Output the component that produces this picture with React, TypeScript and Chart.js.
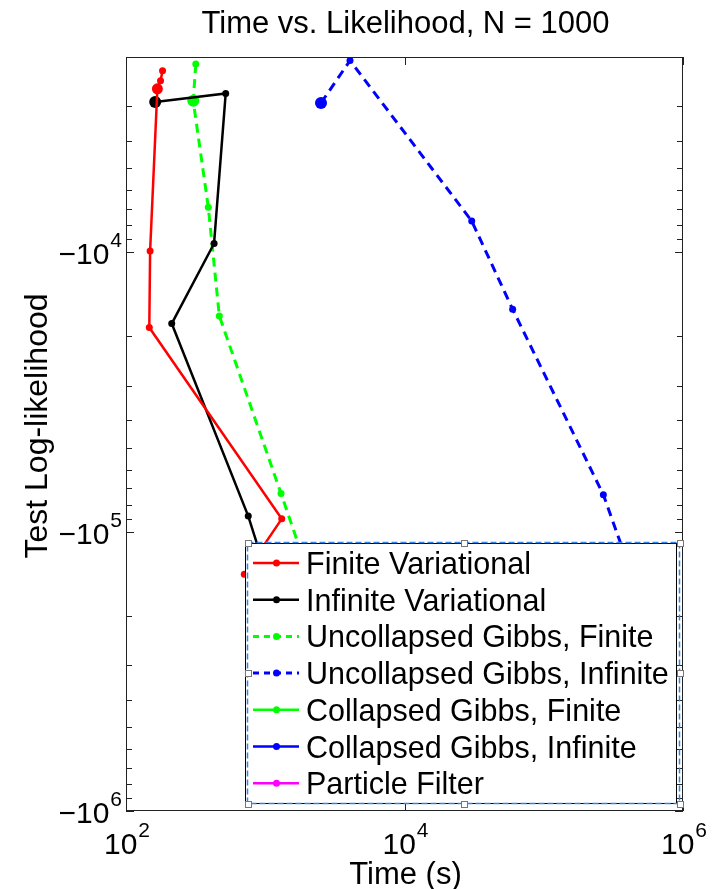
import React, { useEffect, useRef } from "react";
import { Chart, registerables } from "chart.js";

Chart.register(...registerables);

// ---------- text ----------
const TITLE = "Time vs. Likelihood, N = 1000";
const X_LABEL = "Time (s)";
const Y_LABEL = "Test Log-likelihood";
const X_TICK_EXPONENTS = [2, 4, 6];
const Y_TICK_EXPONENTS = [4, 5, 6];

// ---------- data (time in s, test log-likelihood) ----------
const finiteVarTime = [183, 177, 168, 149, 147, 1313, 707];
const finiteVarLL = [-2240, -2430, -2600, -9900, -18600, -90000, -142000];
const finiteVarSize = [3.5, 3.5, 5.5, 3.5, 3.5, 3.5, 3.5];

const infiniteVarTime = [162, 520, 429, 213, 755, 948];
const infiniteVarLL = [-2900, -2700, -9300, -18000, -88000, -126000];
const infiniteVarSize = [6, 3.5, 3.5, 3.5, 3.5, 3.5];

const uncollFiniteTime = [317, 304, 390, 468, 1298, 1836];
const uncollFiniteLL = [-2120, -2870, -6900, -16900, -73000, -121000];

const uncollInfiniteTime = [2514, 4061, 30400, 59800, 268000, 416000];
const uncollInfiniteLL = [-2920, -2060, -7730, -16000, -73800, -136700];

const collFiniteTime = [304];
const collFiniteLL = [-2870];

const collInfiniteTime = [2514];
const collInfiniteLL = [-2920];

const particleTime: number[] = [];
const particleLL: number[] = [];

const SERIES_NAMES = [
  "Finite Variational",
  "Infinite Variational",
  "Uncollapsed Gibbs, Finite",
  "Uncollapsed Gibbs, Infinite",
  "Collapsed Gibbs, Finite",
  "Collapsed Gibbs, Infinite",
  "Particle Filter",
];
const SERIES_COLORS = ["#ff0000", "#000000", "#00ff00", "#0000ff", "#00ff00", "#0000ff", "#ff00ff"];
const SERIES_DASHED = [false, false, true, true, false, false, false];

const FONT = "'Liberation Sans', Arial, Helvetica, sans-serif";
const DASH = [9, 6];

function pts(xs: number[], ys: number[]) {
  // y axis shows negative log-likelihood on a reversed log scale of its magnitude
  return xs.map((x, i) => ({ x, y: -ys[i] }));
}

function drawPow(ctx: CanvasRenderingContext2D, base: string, exp: string, x: number, baseline: number, align: "right" | "center") {
  ctx.font = `30px ${FONT}`;
  const wb = ctx.measureText(base).width;
  ctx.font = `21px ${FONT}`;
  const we = ctx.measureText(exp).width;
  const total = wb + 1 + we;
  const start = align === "right" ? x - total : x - total / 2;
  ctx.textAlign = "left";
  ctx.textBaseline = "alphabetic";
  ctx.font = `30px ${FONT}`;
  ctx.fillText(base, start, baseline);
  ctx.font = `21px ${FONT}`;
  ctx.fillText(exp, start + wb + 1, baseline - 17);
}

const decor = {
  id: "decor",
  beforeDatasetsDraw(chart: any) {
    const { ctx, chartArea: a, scales } = chart;
    const xs = scales.x;
    const ys = scales.y;
    ctx.save();
    ctx.strokeStyle = "#222";
    ctx.lineWidth = 1;
    ctx.strokeRect(a.left + 0.5, a.top + 0.5, a.right - a.left - 1, a.bottom - a.top - 1);
    ctx.beginPath();
    X_TICK_EXPONENTS.forEach((e) => {
      const px = Math.round(xs.getPixelForValue(Math.pow(10, e))) + 0.5;
      ctx.moveTo(px, a.bottom);
      ctx.lineTo(px, a.bottom - 8);
      ctx.moveTo(px, a.top);
      ctx.lineTo(px, a.top + 8);
    });
    for (let e = 3; e <= 6; e++) {
      for (let m = 1; m <= 9; m++) {
        const v = m * Math.pow(10, e);
        if (v < ys.min || v > ys.max) continue;
        const py = Math.round(ys.getPixelForValue(v)) + 0.5;
        const len = m === 1 ? 8 : 6;
        ctx.moveTo(a.left, py);
        ctx.lineTo(a.left + len, py);
        ctx.moveTo(a.right, py);
        ctx.lineTo(a.right - len, py);
      }
    }
    ctx.stroke();
    ctx.restore();
  },
  afterDatasetsDraw(chart: any) {
    const { ctx, chartArea: a, scales } = chart;
    const xs = scales.x;
    const ys = scales.y;
    ctx.save();
    ctx.fillStyle = "#000";

    X_TICK_EXPONENTS.forEach((e) => {
      const px = xs.getPixelForValue(Math.pow(10, e));
      drawPow(ctx, "10", String(e), px + 1, a.bottom + 43, "center");
    });
    Y_TICK_EXPONENTS.forEach((e) => {
      const py = ys.getPixelForValue(Math.pow(10, e));
      drawPow(ctx, "\u221210", String(e), a.left - 4, py + 12, "right");
    });

    ctx.font = `31px ${FONT}`;
    ctx.textAlign = "center";
    ctx.textBaseline = "alphabetic";
    ctx.fillText(TITLE, (a.left + a.right) / 2 + 1, 33);
    ctx.fillText(X_LABEL, (a.left + a.right) / 2 + 1, 884);
    ctx.save();
    ctx.font = `32px ${FONT}`;
    ctx.translate(47, 426);
    ctx.rotate(-Math.PI / 2);
    ctx.fillText(Y_LABEL, 0, 0);
    ctx.restore();

    // legend
    const L = 245.5, T = 543.5, R = 676.5, B = 803.5;
    ctx.fillStyle = "#fff";
    ctx.fillRect(L, T, R - L, B - T);
    ctx.strokeStyle = "#000";
    ctx.lineWidth = 1;
    ctx.strokeRect(L, T, R - L, B - T);
    SERIES_NAMES.forEach((name, i) => {
      const cy = 563 + i * 36.7;
      const col = SERIES_COLORS[i];
      ctx.strokeStyle = col;
      ctx.lineWidth = SERIES_DASHED[i] ? 3 : 2.5;
      ctx.setLineDash(SERIES_DASHED[i] ? [6, 5] : []);
      ctx.beginPath();
      ctx.moveTo(253, cy);
      ctx.lineTo(299, cy);
      ctx.stroke();
      ctx.setLineDash([]);
      ctx.fillStyle = col;
      ctx.beginPath();
      ctx.arc(276.5, cy, 3.5, 0, Math.PI * 2);
      ctx.fill();
      ctx.fillStyle = "#000";
      ctx.font = `30.5px ${FONT}`;
      ctx.textAlign = "left";
      ctx.textBaseline = "alphabetic";
      ctx.fillText(name, 306, cy + 11);
    });

    // selection outline with handles
    const sL = 247.5, sT = 542.5, sR = 679.5, sB = 803.5;
    ctx.strokeStyle = "#2f86e8";
    ctx.lineWidth = 1.5;
    ctx.setLineDash([6, 3]);
    ctx.strokeRect(sL, sT, sR - sL, sB - sT);
    ctx.setLineDash([]);
    const mx = (sL + sR) / 2, my = (sT + sB) / 2;
    const handles = [
      [sL, sT], [mx, sT], [sR, sT],
      [sL, my], [sR, my],
      [sL, sB], [mx, sB], [sR, sB],
    ];
    ctx.fillStyle = "#fff";
    ctx.strokeStyle = "#777";
    ctx.lineWidth = 1;
    handles.forEach(([hx, hy]) => {
      const x0 = Math.round(hx - 3) + 0.5, y0 = Math.round(hy - 3) + 0.5;
      ctx.fillRect(x0, y0, 6, 6);
      ctx.strokeRect(x0, y0, 6, 6);
    });
    ctx.restore();
  },
};

export default function App() {
  const ref = useRef<HTMLCanvasElement | null>(null);

  useEffect(() => {
    if (!ref.current) return;
    const mk = (i: number, data: any[], size: number | number[]) => ({
      label: SERIES_NAMES[i],
      data,
      borderColor: SERIES_COLORS[i],
      backgroundColor: SERIES_COLORS[i],
      pointBackgroundColor: SERIES_COLORS[i],
      pointBorderColor: SERIES_COLORS[i],
      pointBorderWidth: 0,
      borderWidth: SERIES_DASHED[i] ? 3 : 2.5,
      borderDash: SERIES_DASHED[i] ? DASH : [],
      pointRadius: size,
      pointHoverRadius: size,
      tension: 0,
      fill: false,
      showLine: true,
    });
    const chart = new Chart(ref.current, {
      type: "line",
      data: {
        datasets: [
          mk(0, pts(finiteVarTime, finiteVarLL), finiteVarSize),
          mk(1, pts(infiniteVarTime, infiniteVarLL), infiniteVarSize),
          mk(2, pts(uncollFiniteTime, uncollFiniteLL), 3.5),
          mk(3, pts(uncollInfiniteTime, uncollInfiniteLL), 3.5),
          mk(4, pts(collFiniteTime, collFiniteLL), 6),
          mk(5, pts(collInfiniteTime, collInfiniteLL), 6),
          mk(6, pts(particleTime, particleLL), 3.5),
        ] as any,
      },
      options: {
        animation: false,
        responsive: false,
        devicePixelRatio: 1,
        layout: { padding: { left: 126, top: 57, right: 31, bottom: 78 } },
        plugins: {
          legend: { display: false },
          title: { display: false },
          tooltip: { enabled: false },
        },
        scales: {
          x: { type: "logarithmic", min: 100, max: 1e6, display: false },
          y: { type: "logarithmic", reverse: true, min: 2000, max: 1e6, display: false },
        },
      } as any,
      plugins: [decor],
    });
    return () => chart.destroy();
  }, []);

  return (
    <div style={{ position: "fixed", left: 0, top: 0, width: 714, height: 889, background: "#fff" }}>
      <canvas ref={ref} width={714} height={889} style={{ width: 714, height: 889, display: "block" }} />
    </div>
  );
}
